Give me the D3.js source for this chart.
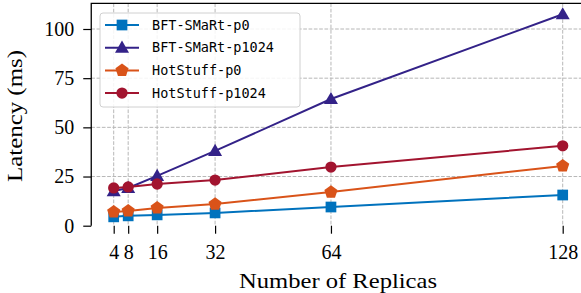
<!DOCTYPE html>
<html><head><meta charset="utf-8">
<script src="https://cdn.jsdelivr.net/npm/d3@7"></script>
<style>
html,body{margin:0;padding:0;background:#fff;}
svg{display:block;}
</style></head>
<body>
<svg id="chart" width="581" height="293"></svg>
<script>
const replicas = [4, 8, 16, 32, 64, 128];
const seriesNames = ["BFT-SMaRt-p0", "BFT-SMaRt-p1024", "HotStuff-p0", "HotStuff-p1024"];
const bftP0 = [4.5, 5.0, 5.5, 6.5, 9.5, 15.6];
const bftP1024 = [17.6, 19.2, 25.3, 38.0, 64.4, 107.5];
const hotP0 = [7.0, 7.5, 9.0, 11.0, 17.1, 30.4];
const hotP1024 = [19.2, 19.7, 21.2, 23.2, 29.8, 40.6];
const yTicks = [0, 25, 50, 75, 100];
const xTicks = [4, 8, 16, 32, 64, 128];

(function () {
const colors = ["#0072BD", "#332288", "#D95319", "#A2142F"];
const markers = ["square", "triangle", "pentagon", "circle"];
const data = [bftP0, bftP1024, hotP0, hotP1024];

const svg = d3.select("#chart");
const x = d3.scaleLinear().domain([4, 128]).range([113.7, 562.7]);
const y = d3.scaleLinear().domain([0, 100]).range([225.7, 29.0]);
const pLeft = x(-2.2), pTop = y(113), pBottom = y(0), pRight = 581;
const serif = "Liberation Serif, DejaVu Serif, serif";

function markerPath(type) {
  if (type === "square") return d3.symbol().type(d3.symbolSquare).size(115)();
  if (type === "triangle") return d3.symbol().type(d3.symbolTriangle).size(85)();
  if (type === "circle") return d3.symbol().type(d3.symbolCircle).size(100)();
  const r = 6.9;
  const pts = d3.range(5).map(i => {
    const a = -Math.PI / 2 + i * 2 * Math.PI / 5;
    return [r * Math.cos(a), r * Math.sin(a)];
  });
  return "M" + pts.map(p => p.join(",")).join("L") + "Z";
}

// grid
const grid = svg.append("g").attr("stroke", "#b0b0b0").attr("stroke-width", 1).attr("stroke-dasharray", "3.7,1.6").attr("opacity", 0.9);
grid.selectAll(".gy").data(yTicks.filter(d => d > 0)).join("line")
  .attr("x1", pLeft).attr("x2", pRight).attr("y1", d => y(d)).attr("y2", d => y(d));
grid.selectAll(".gx").data(xTicks).join("line")
  .attr("x1", d => x(d)).attr("x2", d => x(d)).attr("y1", pTop).attr("y2", pBottom);

// axes
const yAxis = d3.axisLeft(y).tickValues(yTicks).tickSize(8).tickPadding(9);
const gy = svg.append("g").attr("transform", `translate(${pLeft},0)`).call(yAxis);
gy.select(".domain").remove();
gy.selectAll("line").attr("stroke", "#000").attr("stroke-width", 1.2);
gy.selectAll("text").attr("font-family", serif).attr("font-size", 20).attr("fill", "#000");

const xAxis = d3.axisBottom(x).tickValues(xTicks).tickSize(8).tickPadding(11);
const gx = svg.append("g").attr("transform", `translate(0,${pBottom})`).call(xAxis);
gx.select(".domain").remove();
gx.selectAll("line").attr("stroke", "#000").attr("stroke-width", 1.2);
gx.selectAll("text").attr("font-family", serif).attr("font-size", 20).attr("fill", "#000");

// spines (left, top)
svg.append("path").attr("d", `M${pLeft},${pBottom}V${pTop}H${pRight}`).attr("fill", "none").attr("stroke", "#000").attr("stroke-width", 1.3);

// series
const line = d3.line().x((d, i) => x(replicas[i])).y(d => y(d));
data.forEach((vals, s) => {
  const g = svg.append("g");
  g.append("path").attr("d", line(vals)).attr("fill", "none").attr("stroke", colors[s]).attr("stroke-width", 2);
  g.selectAll("path.m").data(vals).join("path").attr("class", "m")
    .attr("d", markerPath(markers[s]))
    .attr("transform", (d, i) => `translate(${x(replicas[i])},${y(d) + (markers[s] === "triangle" ? 1 : 0)})`)
    .attr("fill", colors[s]);
});

// legend
const lg = svg.append("g");
lg.append("rect").attr("x", 100).attr("y", 13).attr("width", 200).attr("height", 94).attr("rx", 3)
  .attr("fill", "#fff").attr("fill-opacity", 0.85).attr("stroke", "#d0d0d0").attr("stroke-width", 1);
seriesNames.forEach((name, s) => {
  const cy = 25 + s * 22.7;
  lg.append("line").attr("x1", 105).attr("x2", 139).attr("y1", cy).attr("y2", cy).attr("stroke", colors[s]).attr("stroke-width", 2);
  lg.append("path").attr("d", markerPath(markers[s])).attr("transform", `translate(122,${cy + (markers[s] === "triangle" ? 1 : 0)})`).attr("fill", colors[s]);
  lg.append("text").attr("x", 152).attr("y", cy).attr("dy", "0.35em").text(name)
    .attr("font-family", "DejaVu Sans Mono, monospace").attr("font-size", 13.5).attr("fill", "#000");
});

// axis titles
svg.append("text").attr("x", (239 + 437) / 2).attr("y", 288).attr("text-anchor", "middle")
  .attr("font-family", serif).attr("font-size", 21).attr("fill", "#000")
  .attr("textLength", 198).attr("lengthAdjust", "spacingAndGlyphs").text("Number of Replicas");
svg.append("text").attr("transform", "translate(22,116) rotate(-90)").attr("text-anchor", "middle")
  .attr("font-family", serif).attr("font-size", 21).attr("fill", "#000")
  .attr("textLength", 132).attr("lengthAdjust", "spacingAndGlyphs").text("Latency (ms)");
})();
</script>
</body></html>
